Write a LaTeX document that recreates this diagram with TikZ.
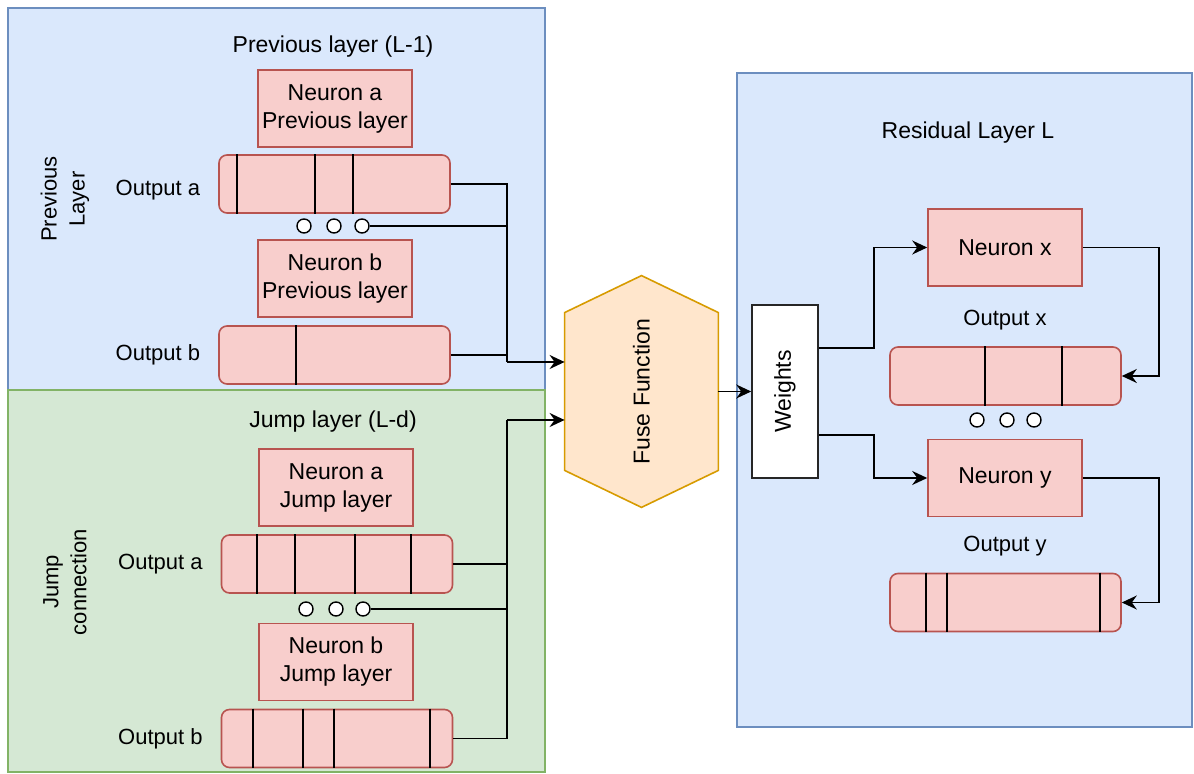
\documentclass[tikz,border=0pt]{standalone}
\usepackage{fontspec}
\setmainfont{Liberation Sans}
\usetikzlibrary{positioning,calc,arrows.meta}

\definecolor{bluefill}{HTML}{DAE8FC}
\definecolor{blueline}{HTML}{6C8EBF}
\definecolor{greenfill}{HTML}{D5E8D4}
\definecolor{greenline}{HTML}{82B366}
\definecolor{redfill}{HTML}{F8CECC}
\definecolor{redline}{HTML}{B85450}
\definecolor{fusefill}{HTML}{FFE6CC}
\definecolor{fuseline}{HTML}{D79B00}

\begin{document}
\begin{tikzpicture}[
    x=0.5pt, y=-0.5pt,
    font=\fontsize{11.5}{14}\selectfont,
    bluepanel/.style={draw=blueline, fill=bluefill, line width=0.8pt},
    greenpanel/.style={draw=greenline, fill=greenfill, line width=0.8pt},
    neuron/.style={draw=redline, fill=redfill, line width=0.8pt, align=center, inner sep=0pt, minimum width=77pt, minimum height=38.5pt},
    outbox/.style={draw=redline, fill=redfill, line width=0.8pt, rounded corners=4pt, inner sep=0pt, minimum width=115.5pt, minimum height=29pt},
    outlabel/.style={font=\fontsize{11}{13}\selectfont},
    dot/.style={circle, draw=black, fill=white, line width=0.7pt, minimum size=7pt, inner sep=0pt},
    side/.style={rotate=90, align=center, font=\fontsize{11}{14}\selectfont},
    fusebox/.style={inner sep=0pt, minimum width=76.5pt, minimum height=115.5pt},
    fusehex/.style={draw=fuseline, fill=fusefill, line width=0.8pt},
    weightbox/.style={draw=black!85, fill=white, line width=0.8pt, inner sep=0pt, minimum width=33pt, minimum height=86.5pt},
    tick/.style={line width=0.9pt},
    wire/.style={line width=0.8pt},
    uni/.style={wire, -{Stealth[length=7.5pt,width=7pt,inset=2.5pt]}}
]
    \useasboundingbox (0,0) rectangle (1194,774);

    % panels
    \draw[bluepanel] (8,8) rectangle (545,390);
    \draw[greenpanel] (8,390) rectangle (545,772);
    \draw[bluepanel] (737,73) rectangle (1192,727);

    % previous layer
    \node (ptitle) at (333,47) {Previous layer (L-1)};
    \node[side] (pside) at (65,199) {Previous\\Layer};
    \node[neuron] (pna) at (335,108.5) {Neuron a\\Previous layer};
    \node[outbox] (poa) at (334.5,184) {};
    \node[outlabel, left=5.5pt of poa, yshift=-3pt] (poalabel) {Output a};
    \foreach \t in {9.5,48.5,67.5}
        \draw[tick] ([xshift=\t pt]poa.north west) -- ([xshift=\t pt]poa.south west);
    \node[dot] (pdot1) at (304,226) {};
    \node[dot] (pdot2) at (334,226) {};
    \node[dot] (pdot3) at (362,226) {};
    \node[neuron] (pnb) at (335,278.5) {Neuron b\\Previous layer};
    \node[outbox] (pob) at (334.5,355) {};
    \node[outlabel, left=5.5pt of pob] (poblabel) {Output b};
    \foreach \t in {39}
        \draw[tick] ([xshift=\t pt]pob.north west) -- ([xshift=\t pt]pob.south west);

    % jump layer
    \node (jtitle) at (333,422) {Jump layer (L-d)};
    \node[side] (jside) at (65,582) {Jump\\connection};
    \node[neuron] (jna) at (336,487.5) {Neuron a\\Jump layer};
    \node[outbox] (joa) at (337,564) {};
    \node[outlabel, left=5.5pt of joa] (joalabel) {Output a};
    \foreach \t in {18.25,37.25,67.25,95.25}
        \draw[tick] ([xshift=\t pt]joa.north west) -- ([xshift=\t pt]joa.south west);
    \node[dot] (jdot1) at (306,609) {};
    \node[dot] (jdot2) at (336,609) {};
    \node[dot] (jdot3) at (363,609) {};
    \node[neuron] (jnb) at (336,662) {Neuron b\\Jump layer};
    \node[outbox] (job) at (337,738.5) {};
    \node[outlabel, left=5.5pt of job] (joblabel) {Output b};
    \foreach \t in {16.25,41.25,56.75,104.75}
        \draw[tick] ([xshift=\t pt]job.north west) -- ([xshift=\t pt]job.south west);

    % fuse function and weights
    \node[fusebox] (fuse) at (641.5,391.5) {};
    \draw[fusehex] (fuse.north) -- ([yshift=-18.5pt]fuse.north east) -- ([yshift=18.5pt]fuse.south east)
        -- (fuse.south) -- ([yshift=18.5pt]fuse.south west) -- ([yshift=-18.5pt]fuse.north west) -- cycle;
    \node[rotate=90] (fusetext) at (fuse.center) {Fuse Function};
    \node[weightbox, label={[rotate=90]center:Weights}] (weights) at (785,391.5) {};

    \coordinate (pjoin) at (507,362);
    \coordinate (jjoin) at (507,420);
    \draw[wire] (poa.east) -| (pjoin);
    \draw[wire] (pdot3.east) -| (pjoin);
    \draw[wire] (pob.east) -| (pjoin);
    \draw[uni] (pjoin) -- (pjoin -| fuse.west);
    \draw[wire] (joa.east) -| (jjoin);
    \draw[wire] (jdot3.east) -| (jjoin);
    \draw[wire] (job.east) -| (jjoin);
    \draw[uni] (jjoin) -- (jjoin -| fuse.west);
    \draw[uni] (fuse.east) -- (weights.west);

    % residual layer
    \node (rtitle) at (968,133) {Residual Layer L};
    \node[neuron] (nx) at (1005,247.5) {Neuron x};
    \node[outlabel] (oxlabel) at (1005,320) {Output x};
    \node[outbox] (ox) at (1005.5,376) {};
    \foreach \t in {48,86.5}
        \draw[tick] ([xshift=\t pt]ox.north west) -- ([xshift=\t pt]ox.south west);
    \node[dot] (rdot1) at (977,420) {};
    \node[dot] (rdot2) at (1007,420) {};
    \node[dot] (rdot3) at (1034,420) {};
    \node[neuron] (ny) at (1005,478) {Neuron y};
    \node[outlabel] (oylabel) at (1005,546) {Output y};
    \node[outbox] (oy) at (1005.5,602.5) {};
    \foreach \t in {18.5,29,105.5}
        \draw[tick] ([xshift=\t pt]oy.north west) -- ([xshift=\t pt]oy.south west);

    \draw[uni] ([yshift=21.75pt]weights.east) -- ++(27.5pt,0) |- (nx.west);
    \draw[uni] ([yshift=-21.75pt]weights.east) -- ++(27.5pt,0) |- (ny.west);
    \draw[uni] (nx.east) -- ++(38pt,0) |- (ox.east);
    \draw[uni] (ny.east) -- ++(38pt,0) |- (oy.east);
\end{tikzpicture}
\end{document}
